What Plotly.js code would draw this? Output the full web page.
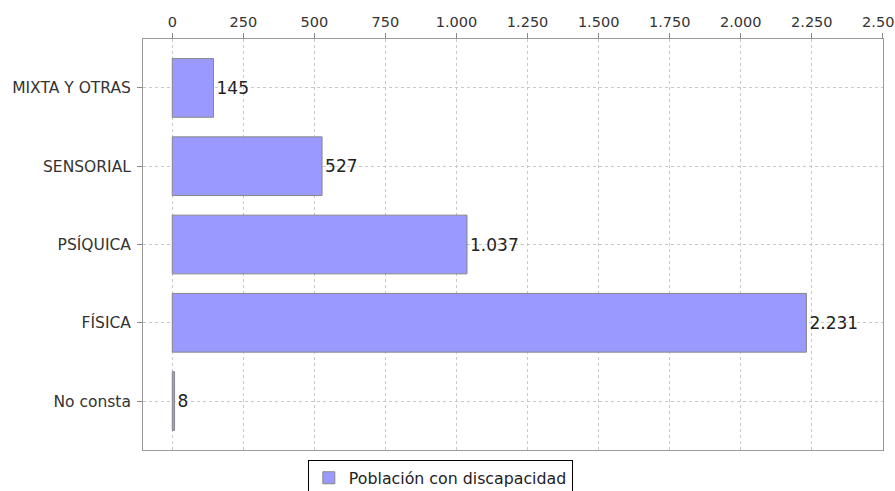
<!DOCTYPE html>
<html>
<head>
<meta charset="utf-8">
<script src="https://cdn.plot.ly/plotly-3.0.1.min.js"></script>
<style>html,body{margin:0;padding:0;background:#fff;overflow:hidden;}#chart{width:895px;height:491px;}</style>
</head>
<body>
<div id="chart"></div>
<script>
const categories = ["MIXTA Y OTRAS", "SENSORIAL", "PSÍQUICA", "FÍSICA", "No consta"];
const values = [145, 527, 1037, 2231, 8];
const seriesName = "Población con discapacidad";
const tickVals = [0, 250, 500, 750, 1000, 1250, 1500, 1750, 2000, 2250, 2500];
const tickText = ["0", "250", "500", "750", "1.000", "1.250", "1.500", "1.750", "2.000", "2.250", "2.500"];

function fmt(v) {
  return String(v).replace(/\B(?=(\d{3})+(?!\d))/g, ".");
}

const trace = {
  type: "bar",
  orientation: "h",
  y: categories,
  x: values,
  name: seriesName,
  width: 0.75,
  marker: { color: "#9999FF", line: { color: "#888888", width: 1 } },
  text: values.map(fmt),
  textposition: "outside",
  cliponaxis: false,
  textfont: { family: "DejaVu Sans", size: 17, color: "#222222" },
  hoverinfo: "none"
};

const layout = {
  width: 895,
  height: 491,
  margin: { l: 143, r: 12, t: 39, b: 41, pad: 0 },
  paper_bgcolor: "#ffffff",
  plot_bgcolor: "#ffffff",
  font: { family: "DejaVu Sans", size: 14, color: "#333333" },
  showlegend: true,
  xaxis: {
    side: "top",
    range: [-103, 2500.5],
    tickvals: tickVals,
    ticktext: tickText,
    ticks: "outside",
    ticklen: 5,
    tickcolor: "#888888",
    tickfont: { family: "DejaVu Sans", size: 14.5, color: "#333333" },
    ticklabeloverflow: "allow",
    showgrid: true,
    gridcolor: "#c8c8c8",
    griddash: "3px,3px",
    gridwidth: 1,
    showline: true,
    linecolor: "#999999",
    linewidth: 1,
    mirror: true,
    zeroline: false,
    fixedrange: true
  },
  yaxis: {
    type: "category",
    range: [4.625, -0.625],
    ticks: "outside",
    ticklen: 5,
    tickcolor: "#888888",
    tickfont: { family: "DejaVu Sans", size: 15.5, color: "#333333" },
    showgrid: true,
    gridcolor: "#c8c8c8",
    griddash: "3px,3px",
    gridwidth: 1,
    showline: true,
    linecolor: "#999999",
    linewidth: 1,
    mirror: true,
    zeroline: false,
    ticklabelstandoff: 3,
    fixedrange: true
  },
  legend: {
    orientation: "h",
    xref: "container",
    yref: "container",
    x: 0.492,
    xanchor: "center",
    y: 1 - 460 / 491,
    yanchor: "top",
    bordercolor: "#000000",
    borderwidth: 1,
    bgcolor: "#ffffff",
    font: { family: "DejaVu Sans", size: 15.8, color: "#222222" }
  }
};

Plotly.newPlot("chart", [trace], layout, { displayModeBar: false, staticPlot: true });
</script>
</body>
</html>
